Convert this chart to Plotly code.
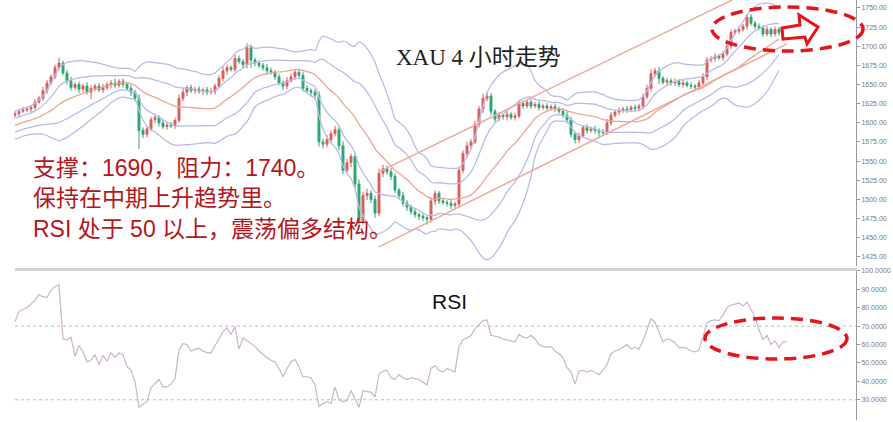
import pandas as pd
import plotly.graph_objects as go

# ---------------- data ----------------
pre_closes = [1584, 1580, 1586, 1590, 1588, 1592, 1589, 1595, 1598, 1594,
              1600, 1597, 1603, 1601, 1606, 1604, 1608, 1606, 1610]
first_open = 1610
closes = [
    1612, 1615, 1617, 1618, 1620, 1627, 1632, 1642, 1652, 1660,
    1672, 1678, 1665, 1655, 1646, 1650, 1644, 1648, 1640, 1645,
    1648, 1643, 1646, 1650, 1652, 1649, 1654, 1650, 1645, 1640,
    1632, 1590, 1585, 1592, 1604, 1607, 1600, 1595, 1597, 1596,
    1603, 1632, 1640, 1646, 1642, 1644, 1641, 1643, 1640, 1641,
    1648, 1658, 1668, 1672, 1670, 1684, 1680, 1676, 1698, 1682,
    1678, 1675, 1672, 1668, 1666, 1660, 1652, 1648, 1655, 1660,
    1666, 1662, 1645, 1642, 1640, 1636, 1575, 1572, 1578, 1586,
    1591, 1570, 1538, 1548, 1556, 1520, 1472, 1505, 1508, 1500,
    1482, 1534, 1540, 1536, 1530, 1512, 1505, 1495, 1490, 1484,
    1480, 1478, 1476, 1474, 1498, 1508, 1498, 1496, 1495, 1492,
    1494, 1538, 1560, 1570, 1575, 1598, 1618, 1632, 1635, 1615,
    1605, 1610, 1608, 1611, 1607, 1609, 1625, 1622, 1627, 1622,
    1624, 1620, 1622, 1619, 1621, 1618, 1615, 1610, 1604, 1585,
    1578, 1583, 1594, 1590, 1592, 1590, 1588, 1587, 1600, 1610,
    1614, 1616, 1618, 1617, 1620, 1619, 1622, 1634, 1645, 1664,
    1668, 1658, 1653, 1655, 1652, 1654, 1650, 1652, 1649, 1648,
    1647, 1652, 1660, 1682, 1684, 1687, 1685, 1690, 1700, 1718,
    1720, 1722, 1726, 1738, 1730, 1726, 1724, 1716, 1722, 1716,
    1722, 1718,
]
up_wick = [
    3, 2, 4, 2, 3, 4, 3, 5, 4, 3,
    4, 7, 3, 4, 5, 3, 4, 3, 5, 4,
    3, 4, 5, 3, 4, 6, 3, 4, 3, 4,
    3, 5, 4, 3, 4, 5, 3, 4, 3, 4,
    4, 5, 6, 3, 4, 3, 4, 3, 4, 5,
    3, 4, 5, 4, 3, 5, 4, 3, 6, 4,
    3, 4, 3, 5, 4, 3, 4, 3, 5, 4,
    4, 3, 5, 4, 3, 4, 5, 4, 6, 4,
    5, 4, 6, 5, 4, 5, 6, 5, 6, 4,
    5, 6, 5, 4, 5, 4, 3, 5, 4, 3,
    4, 3, 4, 3, 5, 4, 3, 4, 3, 4,
    3, 5, 4, 5, 4, 5, 4, 6, 5, 4,
    3, 4, 3, 4, 3, 4, 5, 4, 3, 4,
    3, 4, 3, 4, 3, 4, 3, 4, 5, 4,
    3, 4, 3, 4, 3, 4, 3, 4, 5, 4,
    3, 4, 3, 4, 3, 4, 3, 4, 5, 6,
    4, 5, 3, 4, 3, 4, 3, 4, 3, 4,
    3, 4, 5, 4, 3, 4, 3, 4, 5, 4,
    3, 4, 3, 4, 4, 3, 4, 3, 4, 3,
    4, 3,
]
down_wick = [
    3, 4, 2, 3, 4, 3, 2, 3, 4, 3,
    3, 4, 3, 5, 4, 3, 5, 4, 3, 9,
    4, 3, 4, 3, 5, 4, 3, 4, 3, 5,
    4, 24, 5, 4, 3, 4, 5, 3, 4, 3,
    4, 3, 4, 5, 3, 4, 3, 5, 4, 3,
    4, 3, 4, 5, 3, 4, 3, 4, 5, 10,
    4, 3, 4, 5, 3, 4, 3, 5, 4, 3,
    4, 5, 4, 3, 5, 4, 6, 5, 4, 5,
    4, 6, 5, 4, 6, 5, 7, 5, 6, 5,
    6, 4, 5, 4, 5, 4, 5, 4, 5, 4,
    4, 5, 4, 7, 4, 5, 4, 3, 4, 5,
    4, 5, 4, 5, 4, 3, 4, 5, 4, 5,
    4, 3, 4, 5, 3, 4, 3, 4, 3, 4,
    3, 4, 3, 4, 3, 4, 3, 4, 5, 4,
    5, 4, 3, 4, 3, 4, 8, 4, 3, 4,
    3, 4, 3, 4, 3, 4, 3, 4, 3, 4,
    4, 7, 3, 4, 3, 4, 3, 4, 3, 4,
    3, 4, 3, 4, 3, 4, 3, 4, 3, 4,
    3, 4, 3, 4, 3, 4, 3, 4, 3, 4,
    3, 4,
]
rsi = [
    72.5, 78, 79, 80, 82, 84, 87, 86, 85.5, 89.5,
    91.5, 92.4, 63, 62.5, 64, 53.5, 59.5, 56, 50.6, 51.5,
    54.5, 49, 54, 51, 55.5, 53, 55.5, 54.5, 48, 46,
    40, 26, 27.5, 29, 36.5, 38.5, 41, 37, 37, 38.5,
    41.5, 57, 60.5, 60, 56.5, 57.5, 58, 56.5, 55.5, 55.5,
    59.5, 63, 67, 69, 65.5, 69.6, 57.5, 63.6, 62, 60.5,
    59, 56.5, 54.5, 52.8, 51.5, 50.5, 47, 42.5, 47, 50.5,
    52, 48, 42.5, 42.5, 42, 38, 26.5, 28, 29, 28,
    37, 30, 29, 29.5, 35, 30, 26, 35, 34.5, 34,
    31.5, 44, 45.5, 46, 42, 41, 43.6, 42, 41, 42,
    41.5, 41, 39.5, 38, 47, 48.5, 46, 45, 47, 46,
    45, 59, 62.6, 63.5, 65, 68.5, 71, 73, 73.4, 65,
    64.5, 64, 63, 62.6, 62, 61.5, 65.5, 64, 63.6, 65,
    63, 60, 59, 58.5, 59, 56.5, 55, 52.8, 47.4, 45,
    38.5, 45.5, 46, 45, 46, 45, 43.6, 46, 49, 55,
    56.5, 57, 58.5, 60, 57.5, 58.5, 57.5, 62, 68, 74,
    72, 67, 61.5, 63, 62.5, 61, 58.2, 58.5, 58, 56.5,
    56, 57, 64, 71.8, 73, 73.4, 73, 76, 80, 81.5,
    82, 82.6, 81, 83, 79, 75, 68, 62.6, 65, 60,
    62, 58.5, 61.5, 61.5,
]
# trend lines: [start index, end index], [start price, end price]
upper_trend_x = [91, 185]
upper_trend_y = [1536, 1775]
lower_trend_x = [91, 193]
lower_trend_y = [1438, 1703]

price_ticks = [1425, 1450, 1475, 1500, 1525, 1550, 1575, 1600, 1625,
               1650, 1675, 1700, 1725, 1750]
rsi_ticks = [30, 40, 50, 60, 70, 80, 90, 100]
rsi_levels = [70, 30]

title_text = "XAU 4 小时走势"
rsi_label = "RSI"
notes = ["支撑：1690，阻力：1740。",
         "保持在中期上升趋势里。",
         "RSI 处于 50 以上，震荡偏多结构。"]

# ---------------- derived series ----------------
n = len(closes)
xs = list(range(n))
opens = [first_open] + closes[:-1]
highs = [max(o, c) + w for o, c, w in zip(opens, closes, up_wick)]
lows = [min(o, c) - w for o, c, w in zip(opens, closes, down_wick)]

s = pd.Series(pre_closes + closes, dtype=float)
mid = s.rolling(20).mean()
sd = s.rolling(20).std(ddof=0)
k = len(pre_closes)
mid_v = mid.iloc[k:].tolist()
up2 = (mid + 2 * sd).iloc[k:].tolist()
lo2 = (mid - 2 * sd).iloc[k:].tolist()
up1 = (mid + 1 * sd).iloc[k:].tolist()
lo1 = (mid - 1 * sd).iloc[k:].tolist()

# ---------------- figure geometry (pixels) ----------------
W, H = 893, 422
L, R, T, B = 14, 37, 0, 2
PW, PH = W - L - R, H - T - B


def px(x):
    return (x - L) / PW


def py(y):
    return 1 - (y - T) / PH


LAV = "#b9bce8"
SALMON = "#f0a592"

fig = go.Figure()
for band in (up2, lo2, up1, lo1):
    fig.add_trace(go.Scatter(x=xs, y=band, mode="lines",
                             line=dict(color=LAV, width=1.3, shape="spline"),
                             hoverinfo="skip", xaxis="x", yaxis="y"))
fig.add_trace(go.Scatter(x=xs, y=mid_v, mode="lines",
                         line=dict(color=SALMON, width=1.3, shape="spline"),
                         hoverinfo="skip", xaxis="x", yaxis="y"))
for tx, ty in ((upper_trend_x, upper_trend_y), (lower_trend_x, lower_trend_y)):
    fig.add_trace(go.Scatter(x=tx, y=ty, mode="lines",
                             line=dict(color="#eeaa9c", width=1.5),
                             hoverinfo="skip", xaxis="x", yaxis="y"))

fig.add_trace(go.Candlestick(
    x=xs, open=opens, high=highs, low=lows, close=closes,
    increasing=dict(line=dict(color="#d9605c", width=1), fillcolor="#d9605c"),
    decreasing=dict(line=dict(color="#2fa575", width=1), fillcolor="#2fa575"),
    whiskerwidth=0, xaxis="x", yaxis="y"))

fig.add_trace(go.Scatter(x=list(range(len(rsi))), y=rsi, mode="lines",
                         line=dict(color="#cdb3cf", width=1.2),
                         hoverinfo="skip", xaxis="x2", yaxis="y2"))

x_range = [(L - 15) / 4.0, (W - R - 15) / 4.0]
top_dom = [py(266), 1]
bot_dom = [0, py(270)]

axis_common = dict(side="right", showline=True, linecolor="#9a9a9a", linewidth=1,
                   ticks="outside", ticklen=3, tickcolor="#9a9a9a",
                   tickfont=dict(size=7, color="#7a7a7a", family="Liberation Sans"),
                   showgrid=False, zeroline=False)

fig.update_layout(
    width=W, height=H, margin=dict(l=L, r=R, t=T, b=B, autoexpand=False),
    paper_bgcolor="white", plot_bgcolor="white", showlegend=False,
    xaxis=dict(domain=[0, 1], range=x_range, visible=False, anchor="y",
               rangeslider=dict(visible=False)),
    xaxis2=dict(domain=[0, 1], range=x_range, visible=False, anchor="y2",
                matches="x"),
    yaxis=dict(domain=top_dom, range=[1413, 1760.4], anchor="x",
               tickvals=price_ticks, tickformat=".2f", **axis_common),
    yaxis2=dict(domain=bot_dom, range=[19, 100.5], anchor="x2",
                tickvals=rsi_ticks, tickformat=".4f", **axis_common),
)

shapes = []
# separator between panels
shapes.append(dict(type="line", xref="paper", yref="paper",
                   x0=px(15), x1=px(857), y0=py(269.5), y1=py(269.5),
                   line=dict(color="#d4d4d4", width=3)))
for lv in rsi_levels:
    shapes.append(dict(type="line", xref="paper", yref="y2",
                       x0=px(15), x1=px(856), y0=lv, y1=lv,
                       line=dict(color="#bdbdbd", width=1, dash="dot")))
RED = "#e5161b"
shapes.append(dict(type="circle", xref="paper", yref="paper",
                   x0=px(712), x1=px(863), y0=py(51), y1=py(7),
                   line=dict(color=RED, width=3.5, dash="12px,7px")))
shapes.append(dict(type="circle", xref="paper", yref="paper",
                   x0=px(705), x1=px(847), y0=py(359), y1=py(318),
                   line=dict(color=RED, width=3.5, dash="12px,7px")))
arrow_pts = [(782, 28), (800, 25), (799, 15), (818, 27), (807, 44), (805, 37), (783, 39)]
path = "M " + " L ".join(f"{px(a):.5f},{py(b):.5f}" for a, b in arrow_pts) + " Z"
shapes.append(dict(type="path", xref="paper", yref="paper", path=path,
                   fillcolor="white", line=dict(color=RED, width=3)))
fig.update_layout(shapes=shapes)

annotations = [
    dict(text=title_text, x=px(394), y=py(58), xref="paper", yref="paper",
         xanchor="left", yanchor="middle", showarrow=False,
         font=dict(size=23, color="#222222",
                   family="Liberation Serif, Noto Sans CJK SC")),
    dict(text=rsi_label, x=px(430), y=py(301), xref="paper", yref="paper",
         xanchor="left", yanchor="middle", showarrow=False,
         font=dict(size=21, color="#111111", family="Liberation Sans")),
]
for txt, yc in zip(notes, (168, 198, 229)):
    annotations.append(dict(text=txt, x=px(31), y=py(yc), xref="paper", yref="paper",
                            xanchor="left", yanchor="middle", showarrow=False,
                            font=dict(size=23, color="#b5161c",
                                      family="Liberation Sans, Noto Sans CJK SC")))
fig.update_layout(annotations=annotations)

fig.write_html("out.html",
               config={"displayModeBar": False, "staticPlot": True},
               post_script="document.body.style.margin='0px';"
                           "document.body.style.padding='0px';")
